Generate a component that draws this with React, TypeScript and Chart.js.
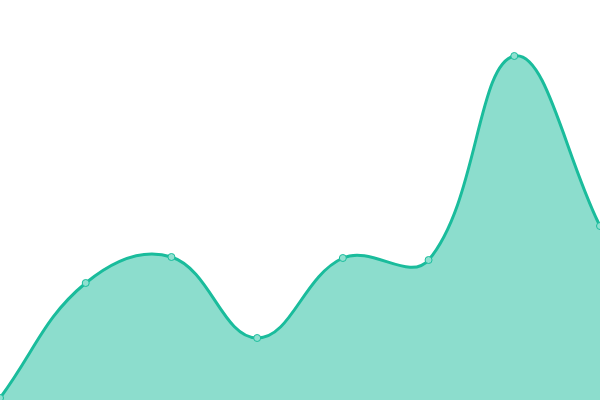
import { Chart, registerables } from "chart.js";
import { useEffect, useRef } from "react";

Chart.register(...registerables);

const labels = ["1", "2", "3", "4", "5", "6", "7", "8"];
const values = [0.5, 29.25, 35.75, 15.5, 35.5, 35, 86, 43.5];

const App = () => {
  const chartRef = useRef<HTMLCanvasElement>(null);

  useEffect(() => {
    document.body.style.margin = "0";
    if (chartRef.current) {
      const ctx = chartRef.current.getContext("2d");
      if (ctx) {
        const chart = new Chart(ctx, {
          type: "line",
          data: {
            labels,
            datasets: [
              {
                data: values,
                borderColor: "#1abc9c",
                backgroundColor: "rgba(26, 188, 156, 0.5)",
                borderWidth: 3,
                fill: true,
                tension: 0.4,
                pointRadius: 3.5,
                pointBackgroundColor: "#8fe0d0",
                pointBorderColor: "#1abc9c",
                pointBorderWidth: 1,
              },
            ],
          },
          options: {
            animation: false,
            responsive: false,
            layout: { padding: 0, autoPadding: false },
            plugins: {
              legend: { display: false },
              tooltip: { enabled: false },
            },
            scales: {
              x: { display: false },
              y: { display: false, min: 0, max: 100 },
            },
          },
        });
        return () => chart.destroy();
      }
    }
  }, []);

  return (
    <div style={{ width: 600, height: 400 }}>
      <canvas ref={chartRef} width={600} height={400}></canvas>
    </div>
  );
};

export default App;
